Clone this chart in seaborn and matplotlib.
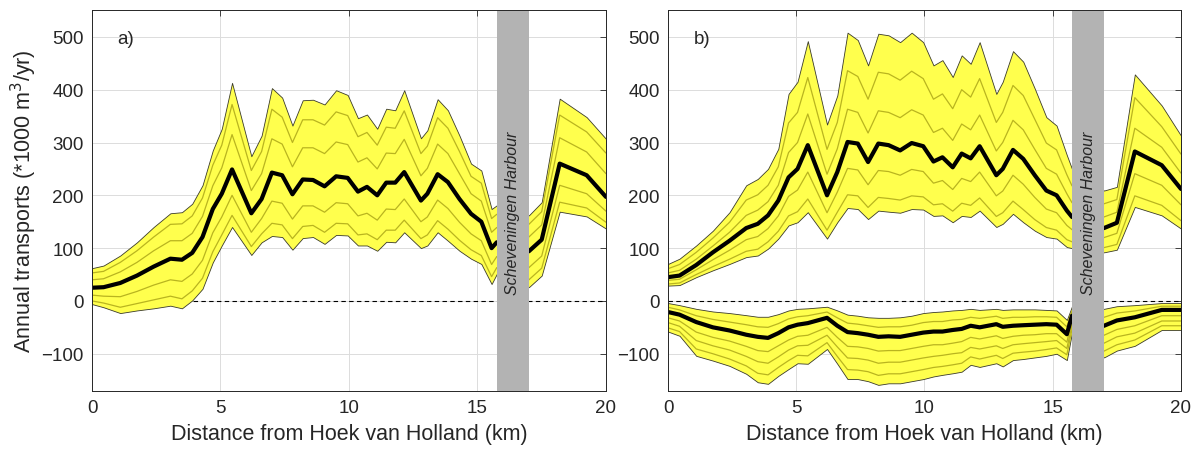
import matplotlib
matplotlib.use("Agg")
import matplotlib.pyplot as plt
import pandas as pd
import seaborn as sns

# transect positions (km from Hoek van Holland)
dist = [0, 0.45, 1.1, 1.75, 2.4, 3.05, 3.5, 3.9, 4.3, 4.7, 5.05, 5.45, 6.2, 6.6,
        7.0, 7.4, 7.8, 8.2, 8.6, 9.05, 9.5, 9.95, 10.35, 10.7, 11.1, 11.45, 11.8,
        12.15, 12.8, 13.05, 13.45, 13.85, 14.3, 14.75, 15.15, 15.55, 15.75,
        17.0, 17.5, 18.2, 19.25, 20.0]

harbour_start = 15.75
harbour_end = 17.0

# --- panel a: net transport (*1000 m3/yr)
a_upper = [62, 67, 86, 111, 140, 166, 168, 184, 219, 285, 326, 413, 274, 313, 403, 385,
           332, 380, 381, 372, 399, 390, 346, 353, 326, 364, 361, 399, 308, 323, 382,
           361, 313, 260, 247, 174, 181, 162, 187, 383, 348, 307]
a_mean = [25, 26, 34, 48, 65, 80, 78, 91, 121, 174, 203, 249, 166, 193, 243, 238, 202,
          230, 229, 217, 236, 233, 207, 216, 200, 224, 224, 244, 190, 203, 240, 225,
          193, 165, 150, 100, 111, 94, 116, 260, 238, 197]
a_lower = [-6, -12, -23, -18, -14, -9, -14, 1, 23, 73, 105, 140, 87, 111, 123, 121, 97,
           119, 121, 108, 125, 124, 105, 105, 95, 112, 111, 130, 100, 105, 130, 114, 95,
           80, 70, 32, 51, 26, 48, 169, 160, 137]
a_run1 = [53, 56, 73, 95, 121, 145, 146, 161, 195, 257, 295, 372, 247, 283, 363, 348, 300,
          343, 343, 333, 358, 351, 311, 319, 295, 329, 327, 360, 279, 293, 347, 327, 283,
          236, 223, 156, 164, 145, 169, 352, 320, 280]
a_run2 = [40, 42, 55, 73, 95, 114, 114, 128, 160, 218, 252, 315, 209, 241, 307, 297, 254,
          290, 290, 279, 301, 296, 263, 271, 250, 280, 279, 306, 237, 251, 297, 279, 241,
          203, 189, 130, 139, 121, 144, 309, 282, 241]
a_run3 = [11, 9, 8, 18, 30, 40, 37, 51, 77, 129, 159, 200, 130, 156, 189, 185, 155, 180,
          180, 168, 186, 184, 161, 166, 153, 174, 173, 193, 150, 159, 191, 175, 149, 127,
          114, 69, 84, 63, 85, 219, 203, 170]
a_run4 = [0, -4, -12, -5, 2, 9, 4, 19, 43, 93, 125, 162, 103, 127, 147, 144, 118, 141, 143,
          130, 147, 146, 125, 127, 116, 134, 134, 153, 118, 125, 152, 136, 115, 97, 86, 46,
          63, 40, 62, 187, 176, 149]

# --- panel b: gross northward transport
b_upper = [70, 80, 105, 133, 168, 219, 231, 250, 288, 392, 415, 492, 334, 389, 508, 494,
           446, 506, 503, 490, 508, 490, 446, 456, 424, 465, 449, 490, 392, 415, 473, 453,
           402, 348, 332, 276, 250, 209, 216, 429, 370, 313]
b_mean = [45, 48, 68, 92, 114, 138, 146, 162, 190, 234, 250, 295, 200, 244, 301, 298, 263,
          298, 295, 285, 299, 293, 264, 272, 253, 279, 270, 293, 238, 250, 286, 269, 238,
          209, 200, 171, 159, 138, 148, 283, 257, 212]
b_lower = [29, 30, 45, 58, 70, 83, 86, 99, 118, 143, 149, 168, 118, 149, 176, 174, 155, 171,
           169, 167, 174, 173, 161, 162, 149, 161, 159, 171, 140, 146, 165, 149, 133, 121,
           118, 102, 100, 92, 97, 178, 162, 137]
b_run1 = [61, 69, 92, 119, 149, 191, 201, 219, 254, 337, 357, 423, 287, 338, 436, 425, 382,
          433, 430, 418, 435, 421, 382, 392, 364, 400, 386, 421, 338, 357, 408, 389, 344,
          299, 286, 239, 218, 184, 192, 385, 330, 278]
b_run2 = [53, 58, 79, 104, 130, 162, 172, 188, 219, 281, 300, 354, 240, 288, 363, 357, 318,
          360, 357, 347, 362, 352, 319, 327, 304, 335, 324, 352, 284, 300, 342, 324, 287,
          251, 240, 203, 186, 159, 168, 327, 291, 242]
b_run3 = [39, 41, 59, 78, 96, 116, 122, 137, 161, 198, 210, 244, 167, 206, 251, 248, 220,
          247, 245, 238, 249, 245, 223, 228, 211, 232, 226, 244, 199, 208, 238, 221, 196,
          174, 167, 143, 135, 120, 128, 241, 219, 182]
b_run4 = [32, 34, 50, 65, 79, 94, 98, 112, 132, 161, 169, 193, 134, 168, 201, 199, 177, 196,
          194, 191, 199, 197, 182, 184, 170, 185, 181, 195, 160, 167, 189, 173, 154, 139,
          134, 116, 112, 101, 107, 199, 181, 152]

# --- panel b: gross southward transport
s_upper = [-4, -8, -15, -20, -23, -27, -30, -30, -25, -18, -15, -14, -11, -18, -26, -28,
           -31, -32, -32, -31, -28, -23, -21, -20, -18, -17, -15, -17, -15, -17, -16, -16,
           -16, -17, -18, -36, -10, -15, -10, -8, -4, -4]
s_mean = [-21, -26, -40, -50, -56, -64, -68, -70, -61, -50, -45, -42, -32, -47, -59, -61,
          -64, -68, -67, -68, -64, -60, -58, -58, -55, -53, -47, -50, -44, -49, -47, -46,
          -45, -44, -45, -63, -28, -47, -37, -31, -17, -17]
s_lower = [-58, -66, -104, -113, -123, -138, -154, -157, -142, -129, -118, -119, -91, -119,
           -148, -148, -152, -159, -156, -156, -152, -148, -143, -140, -137, -134, -121,
           -125, -118, -124, -112, -110, -107, -104, -100, -112, -60, -107, -94, -85, -55,
           -55]
s_run1 = [-12, -17, -28, -35, -40, -45, -49, -50, -43, -34, -30, -28, -21, -32, -42, -44,
          -47, -50, -49, -49, -46, -41, -39, -39, -36, -35, -31, -33, -29, -33, -31, -31,
          -30, -30, -31, -49, -19, -31, -23, -19, -10, -10]
s_run2 = [-32, -38, -59, -69, -76, -86, -94, -96, -85, -74, -67, -65, -50, -69, -86, -87,
          -90, -95, -94, -94, -90, -86, -83, -83, -80, -77, -69, -72, -66, -71, -67, -65,
          -64, -62, -62, -78, -38, -65, -54, -47, -28, -28]
s_run3 = [-41, -48, -75, -85, -93, -105, -115, -118, -106, -93, -85, -84, -65, -87, -108,
          -109, -112, -118, -116, -116, -112, -108, -105, -103, -100, -98, -88, -91, -85,
          -90, -83, -81, -79, -77, -75, -90, -46, -80, -68, -61, -38, -38]
s_run4 = [-51, -58, -91, -100, -110, -123, -137, -140, -126, -113, -103, -104, -79, -105,
          -130, -131, -134, -141, -138, -138, -134, -130, -126, -124, -121, -118, -106, -110,
          -103, -109, -99, -97, -95, -92, -89, -102, -54, -95, -83, -74, -47, -47]

yellow = "#ffff4d"
olive = "#b9b41f"
edge = "#3a3a2a"
ink = "#262626"

sns.set_theme(style="whitegrid")
plt.rcParams["font.family"] = ["Liberation Sans", "DejaVu Sans"]


def runs_frame(runs):
    rows = []
    for i, r in enumerate(runs):
        for xv, yv in zip(dist, r):
            rows.append({"x": xv, "y": yv, "run": i})
    return pd.DataFrame(rows)


def draw_band(ax, lower, upper, mean, runs):
    ax.fill_between(dist, lower, upper, facecolor=yellow, edgecolor=edge,
                    linewidth=0.6, zorder=2)
    sns.lineplot(data=runs_frame(runs), x="x", y="y", units="run", estimator=None,
                 color=olive, linewidth=0.9, ax=ax, zorder=3, legend=False)
    sns.lineplot(x=dist, y=mean, color="black", linewidth=3, ax=ax, zorder=4)


fig = plt.figure(figsize=(11.98, 4.52), dpi=100)
ax_a = fig.add_axes([0.0768, 0.1334, 0.4290, 0.8412])
ax_b = fig.add_axes([0.5576, 0.1334, 0.4282, 0.8412])

draw_band(ax_a, a_lower, a_upper, a_mean, [a_run1, a_run2, a_run3, a_run4])
draw_band(ax_b, b_lower, b_upper, b_mean, [b_run1, b_run2, b_run3, b_run4])
draw_band(ax_b, s_lower, s_upper, s_mean, [s_run1, s_run2, s_run3, s_run4])

for ax, tag in [(ax_a, "a)"), (ax_b, "b)")]:
    ax.axhline(0, color="black", linestyle=(0, (4, 3)), linewidth=0.8, zorder=1.5)
    ax.axvspan(harbour_start, harbour_end, color="#b3b3b3", zorder=6, linewidth=0)
    ax.text((harbour_start + harbour_end) / 2, 14, "Scheveningen Harbour",
            rotation=90, ha="center", va="bottom", style="italic", fontsize=11.5,
            color=ink, zorder=7)
    ax.text(1.0, 497, tag, fontsize=13.5, ha="left", va="center", color=ink)
    ax.set_xlim(0, 20)
    ax.set_ylim(-170, 550)
    ax.set_xticks([0, 5, 10, 15, 20])
    ax.set_yticks([-100, 0, 100, 200, 300, 400, 500])
    ax.grid(True, color="#dcdcdc", linewidth=0.7)
    ax.set_axisbelow(True)
    ax.tick_params(direction="in", top=True, right=True, length=4, width=0.6,
                   colors=ink, labelsize=13.5, pad=6)
    for sp in ax.spines.values():
        sp.set_visible(True)
        sp.set_color(ink)
        sp.set_linewidth(0.7)
        sp.set_zorder(8)
    ax.set_xlabel("Distance from Hoek van Holland (km)", fontsize=15.5, color=ink,
                  labelpad=5)
    ax.set_ylabel("")

ax_a.set_ylabel("Annual transports (*1000 m$^3$/yr)", fontsize=15.5, color=ink,
                labelpad=2)

fig.savefig("out.png", dpi=100)
